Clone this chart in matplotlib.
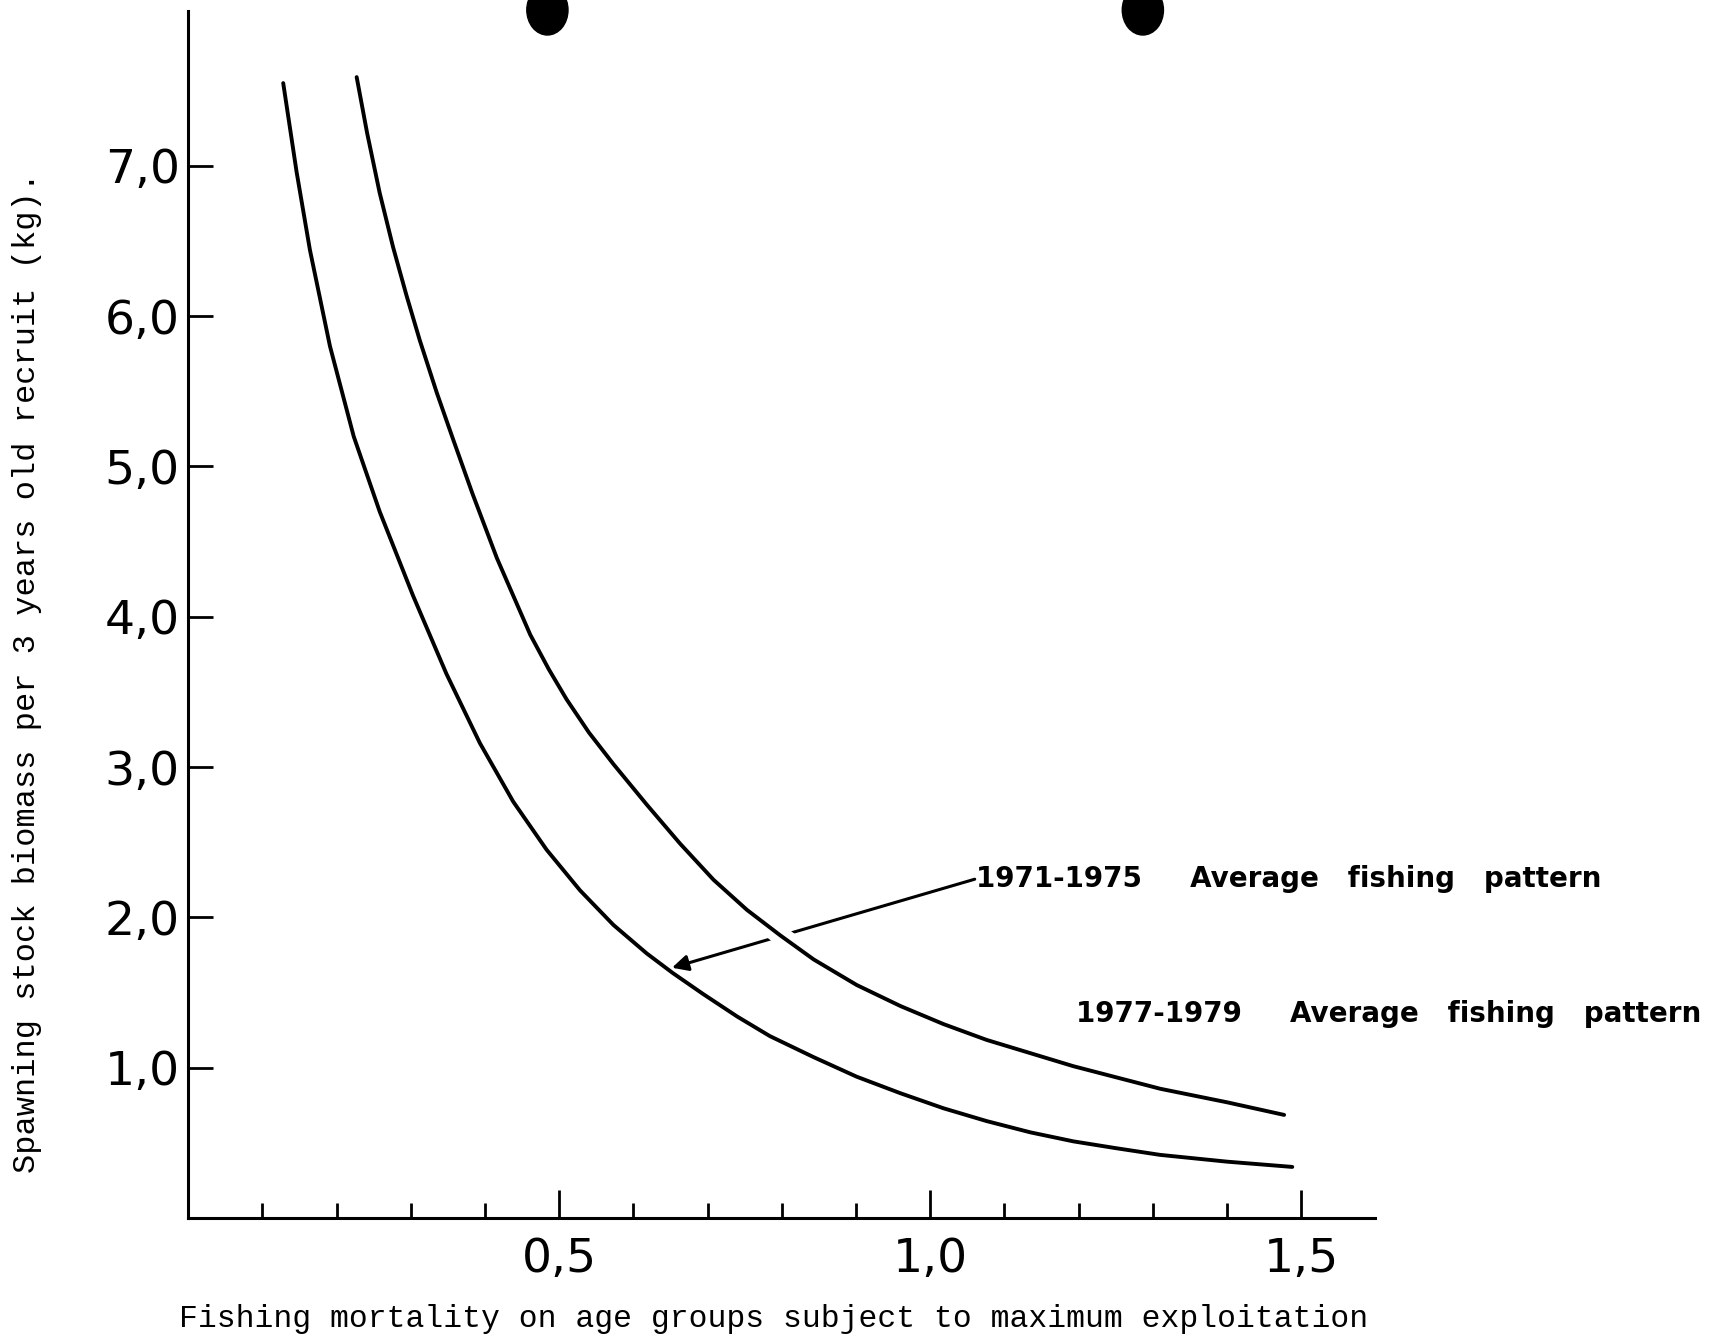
import matplotlib
matplotlib.use("Agg")
import matplotlib.pyplot as plt
import matplotlib.patheffects as pe
from matplotlib.patches import Ellipse

# fishing mortality (F) and spawning stock biomass per recruit
f_7175 = [0.128, 0.146, 0.164, 0.191, 0.223, 0.258, 0.303, 0.348, 0.393, 0.438,
          0.483, 0.528, 0.573, 0.618, 0.653, 0.694, 0.740, 0.784, 0.843, 0.901,
          0.960, 1.018, 1.076, 1.135, 1.193, 1.250, 1.310, 1.400, 1.488]
b_7175 = [7.55, 6.96, 6.44, 5.80, 5.20, 4.70, 4.14, 3.62, 3.16, 2.77,
          2.45, 2.18, 1.95, 1.76, 1.63, 1.49, 1.34, 1.21, 1.07, 0.94,
          0.83, 0.73, 0.645, 0.57, 0.51, 0.465, 0.42, 0.375, 0.34]

f_7779 = [0.227, 0.241, 0.258, 0.276, 0.294, 0.312, 0.335, 0.357, 0.383, 0.416,
          0.461, 0.486, 0.510, 0.540, 0.573, 0.618, 0.663, 0.708, 0.753, 0.798,
          0.843, 0.901, 0.960, 1.018, 1.076, 1.193, 1.310, 1.400, 1.477]
b_7779 = [7.59, 7.22, 6.82, 6.46, 6.14, 5.84, 5.49, 5.18, 4.82, 4.39,
          3.88, 3.65, 3.45, 3.23, 3.02, 2.75, 2.49, 2.25, 2.05, 1.88,
          1.72, 1.55, 1.41, 1.29, 1.185, 1.01, 0.86, 0.77, 0.686]

yticks = [1, 2, 3, 4, 5, 6, 7]
ylabels = ["1,0", "2,0", "3,0", "4,0", "5,0", "6,0", "7,0"]
xticks = [0.5, 1.0, 1.5]
xlabels = ["0,5", "1,0", "1,5"]
xminor = [0.1, 0.2, 0.3, 0.4, 0.6, 0.7, 0.8, 0.9, 1.1, 1.2, 1.3, 1.4]

label_7175 = "1971-1975     Average   fishing   pattern"
label_7779 = "1977-1979     Average   fishing   pattern"

fig = plt.figure(figsize=(17.16, 13.36), dpi=100)
ax = fig.add_axes([0.1097, 0.0883, 0.6918, 0.9035])

ax.plot(f_7175, b_7175, color="black", lw=2.8, solid_capstyle="round", zorder=3)
ax.plot(f_7779, b_7779, color="black", lw=2.8, solid_capstyle="round", zorder=4,
        path_effects=[pe.Stroke(linewidth=14, foreground="white"), pe.Normal()])

# arrow from the 1971-1975 label to its curve
ax.annotate("", xy=(0.652, 1.665), xytext=(1.060, 2.254),
            arrowprops=dict(arrowstyle="-|>", lw=2.2, color="black",
                            mutation_scale=24, shrinkA=0, shrinkB=0),
            zorder=2)

ax.text(1.062, 2.254, label_7175, ha="left", va="center", fontsize=20,
        fontweight="bold", family="DejaVu Sans", clip_on=False)
ax.text(1.196, 1.355, label_7779, ha="left", va="center", fontsize=20,
        fontweight="bold", family="DejaVu Sans", clip_on=False)

ax.set_xlim(0, 1.6)
ax.set_ylim(0, 8.03)
for s in ["top", "right"]:
    ax.spines[s].set_visible(False)
for s in ["left", "bottom"]:
    ax.spines[s].set_linewidth(2.2)

ax.set_yticks(yticks)
ax.set_yticklabels(ylabels)
ax.set_xticks(xticks)
ax.set_xticklabels(xlabels)
ax.set_xticks(xminor, minor=True)
ax.tick_params(axis="y", direction="in", length=18, width=2.0, pad=6,
               labelsize=34)
ax.tick_params(axis="x", which="major", direction="in", length=20, width=2.0,
               pad=14, labelsize=34)
ax.tick_params(axis="x", which="minor", direction="in", length=11, width=2.0)

ax.set_xlabel("Fishing mortality on age groups subject to maximum exploitation",
              family="Liberation Mono", fontsize=22.6)
ax.set_ylabel("Spawning stock biomass per 3 years old recruit (kg).",
              family="Liberation Mono", fontsize=23)
ax.xaxis.set_label_coords(0.493, -0.071)
ax.yaxis.set_label_coords(-0.123, 0.452)

# punch holes at the top of the scanned page
for cx in [0.319, 0.666]:
    fig.patches.append(Ellipse((cx, 0.9925), 0.024, 0.0374, color="black",
                               transform=fig.transFigure, figure=fig))

fig.savefig("out.png", dpi=100, facecolor="white")
